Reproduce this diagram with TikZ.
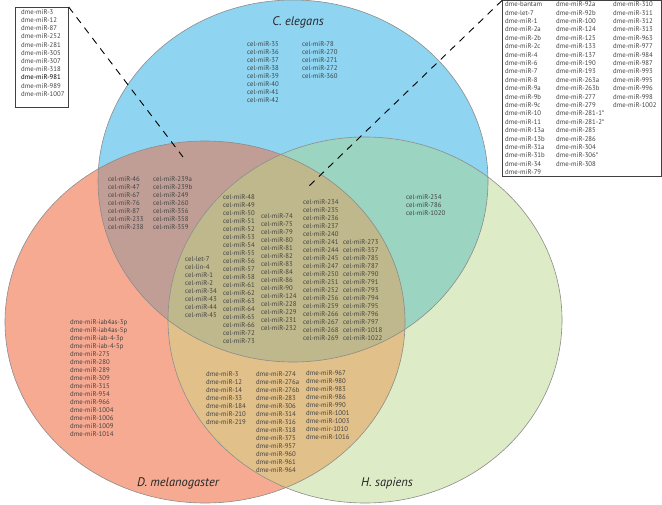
\documentclass[tikz,border=0pt]{standalone}
\usepackage{fontspec}
\setmainfont{PT Sans}
\definecolor{cblue}{RGB}{143,212,240}
\definecolor{cred}{RGB}{247,170,146}
\definecolor{cgreen}{RGB}{221,235,198}
\definecolor{cmauve}{RGB}{192,158,150}
\definecolor{cteal}{RGB}{155,212,192}
\definecolor{corange}{RGB}{225,192,138}
\definecolor{colive}{RGB}{190,184,140}
\definecolor{ctext}{RGB}{66,66,66}
\definecolor{cedge}{RGB}{140,140,140}
\newcommand\pathB{(293,181) ellipse [x radius=195bp, y radius=181bp]}
\newcommand\pathR{(205,322) ellipse [x radius=200bp, y radius=181bp]}
\newcommand\pathG{(365,320) ellipse [x radius=197bp, y radius=183bp]}
\newcommand\tcol[5]{\foreach \itm [count=\i] in {#5} {\node[tx, anchor=base west] (#1\i) at ({#2},{#3+2.3+(\i-1)*#4}) {\itm};}}
\begin{document}
\begin{tikzpicture}[x=1bp,y=-1bp,
  tx/.style={inner sep=0pt, font=\fontsize{6.8}{8}\selectfont, text=ctext},
  title/.style={inner sep=0pt, font=\fontsize{12.5}{14}\selectfont\itshape, text=black!85},
  listbox/.style={draw=black!75, line width=0.7bp, fill=white, inner sep=0pt, anchor=north west},
  pointer/.style={draw=black, line width=0.9bp, dash pattern=on 7bp off 6bp}]
\useasboundingbox (0,0) rectangle (662,505);
% regions
\fill[cblue] \pathB;
\fill[cred] \pathR;
\fill[cgreen] \pathG;
\begin{scope}\clip \pathB; \fill[cmauve] \pathR; \end{scope}
\begin{scope}\clip \pathB; \fill[cteal] \pathG; \end{scope}
\begin{scope}\clip \pathR; \fill[corange] \pathG; \end{scope}
\begin{scope}\clip \pathB; \clip \pathR; \fill[colive] \pathG; \end{scope}
\draw[cedge, line width=0.6bp] \pathB;
\draw[cedge, line width=0.6bp] \pathR;
\draw[cedge, line width=0.6bp] \pathG;
% titles
\node[title] (tC) at (298,22) {C. elegans};
\node[title] (tD) at (178,483) {D. melanogaster};
\node[title] (tH) at (387,483) {H. sapiens};
% C. elegans only
\tcol{ca}{247}{44}{8}{cel-miR-35,cel-miR-36,cel-miR-37,cel-miR-38,cel-miR-39,cel-miR-40,cel-miR-41,cel-miR-42}
\tcol{cb}{302}{44}{8}{cel-miR-78,cel-miR-270,cel-miR-271,cel-miR-272,cel-miR-360}
% C & D
\tcol{cda}{108}{179}{8}{cel-miR-46,cel-miR-47,cel-miR-67,cel-miR-76,cel-miR-87,cel-miR-233,cel-miR-238}
\tcol{cdb}{153}{179}{8}{cel-miR-239a,cel-miR-239b,cel-miR-249,cel-miR-260,cel-miR-356,cel-miR-358,cel-miR-359}
% all three
\tcol{alla}{185}{259}{8}{cel-let-7,cel-lin-4,cel-miR-1,cel-miR-2,cel-miR-34,cel-miR-43,cel-miR-44,cel-miR-45}
\tcol{allb}{223}{197}{8}{cel-miR-48,cel-miR-49,cel-miR-50,cel-miR-51,cel-miR-52,cel-miR-53,cel-miR-54,cel-miR-55,cel-miR-56,cel-miR-57,cel-miR-58,cel-miR-61,cel-miR-62,cel-miR-63,cel-miR-64,cel-miR-65,cel-miR-66,cel-miR-72,cel-miR-73}
\tcol{allc}{261}{216}{8}{cel-miR-74,cel-miR-75,cel-miR-79,cel-miR-80,cel-miR-81,cel-miR-82,cel-miR-83,cel-miR-84,cel-miR-86,cel-miR-90,cel-miR-124,cel-miR-228,cel-miR-229,cel-miR-231,cel-miR-232}
\tcol{alld}{303}{202}{8}{cel-miR-234,cel-miR-235,cel-miR-236,cel-miR-237,cel-miR-240,cel-miR-241,cel-miR-244,cel-miR-245,cel-miR-247,cel-miR-250,cel-miR-251,cel-miR-252,cel-miR-256,cel-miR-259,cel-miR-266,cel-miR-267,cel-miR-268,cel-miR-269}
\tcol{alle}{343}{242}{8}{cel-miR-273,cel-miR-357,cel-miR-785,cel-miR-787,cel-miR-790,cel-miR-791,cel-miR-793,cel-miR-794,cel-miR-795,cel-miR-796,cel-miR-797,cel-miR-1018,cel-miR-1022}
% C & H
\tcol{ch}{406}{197}{8}{cel-miR-254,cel-miR-786,cel-miR-1020}
% D only
\tcol{d}{70}{322}{8}{dme-miR-iab4as-3p,dme-miR-iab4as-5p,dme-miR-iab-4-3p,dme-miR-iab-4-5p,dme-miR-275,dme-miR-280,dme-miR-289,dme-miR-309,dme-miR-315,dme-miR-954,dme-miR-966,dme-miR-1004,dme-miR-1006,dme-miR-1009,dme-miR-1014}
% D & H
\tcol{dha}{206}{374}{8}{dme-miR-3,dme-miR-12,dme-miR-14,dme-miR-33,dme-miR-184,dme-miR-210,dme-miR-219}
\tcol{dhb}{256}{374}{8}{dme-miR-274,dme-miR-276a,dme-miR-276b,dme-miR-283,dme-miR-306,dme-miR-314,dme-miR-316,dme-miR-318,dme-miR-375,dme-miR-957,dme-miR-960,dme-miR-961,dme-miR-964}
\tcol{dhc}{306}{373}{8}{dme-miR-967,dme-miR-980,dme-miR-983,dme-miR-986,dme-miR-990,dme-miR-1001,dme-miR-1003,dme-mir-1010,dme-miR-1016}
% boxes
\node[listbox, minimum width=53bp, minimum height=100bp] (lbox) at (15,7) {};
\node[listbox, minimum width=159bp, minimum height=175.5bp] (rbox) at (502,0.5) {};
\coordinate (lend) at (183,157);
\coordinate (rend) at (307,188);
\draw[pointer] (lbox.north east) -- (lend);
\draw[pointer] (rbox.north west) -- (rend);
\tcol{lb}{21}{12}{8.2}{dme-miR-3,dme-miR-12,dme-miR-87,dme-miR-252,dme-miR-281,dme-miR-305,dme-miR-307,dme-miR-318,{\color{black}dme-miR-981},dme-miR-989,dme-miR-1007}
\tcol{rba}{505}{4.5}{8.4}{dme-bantam,dme-let-7,dme-miR-1,dme-miR-2a,dme-miR-2b,dme-miR-2c,dme-miR-4,dme-miR-6,dme-miR-7,dme-miR-8,dme-miR-9a,dme-miR-9b,dme-miR-9c,dme-miR-10,dme-miR-11,dme-miR-13a,dme-miR-13b,dme-miR-31a,dme-miR-31b,dme-miR-34,dme-miR-79}
\tcol{rbb}{556}{4.5}{8.4}{dme-miR-92a,dme-miR-92b,dme-miR-100,dme-miR-124,dme-miR-125,dme-miR-133,dme-miR-137,dme-miR-190,dme-miR-193,dme-miR-263a,dme-miR-263b,dme-miR-277,dme-miR-279,dme-miR-281-1*,dme-miR-281-2*,dme-miR-285,dme-miR-286,dme-miR-304,dme-miR-306*,dme-miR-308}
\tcol{rbc}{613}{4.5}{8.4}{dme-miR-310,dme-miR-311,dme-miR-312,dme-miR-313,dme-miR-963,dme-miR-977,dme-miR-984,dme-miR-987,dme-miR-993,dme-miR-995,dme-miR-996,dme-miR-998,dme-miR-1002}
\end{tikzpicture}
\end{document}
